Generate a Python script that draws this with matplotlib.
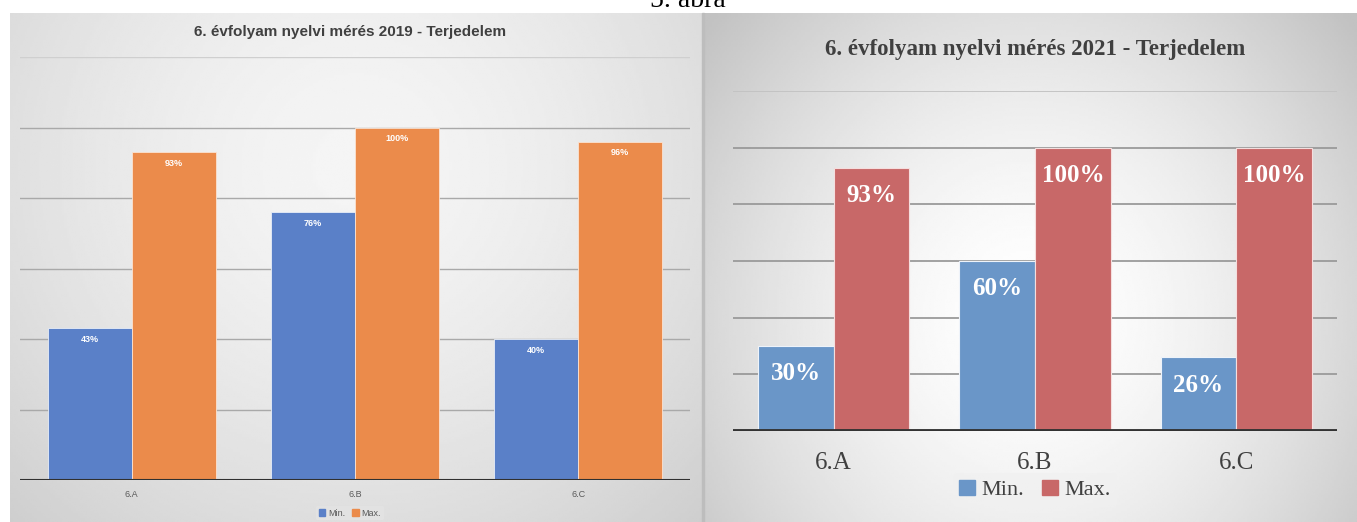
import numpy as np
import matplotlib
matplotlib.use("Agg")
import matplotlib.pyplot as plt
from matplotlib.patches import Patch

# data
classes = ['6.A', '6.B', '6.C']
min_2019 = [43, 76, 40]
max_2019 = [93, 100, 96]
min_2021 = [30, 60, 26]
max_2021 = [93, 100, 100]

W, H = 1357, 522
fig = plt.figure(figsize=(W / 100, H / 100), dpi=100)
fig.patch.set_facecolor('white')

sans = ['Liberation Sans', 'DejaVu Sans']
serif = ['Liberation Serif', 'DejaVu Serif']


def px_rect(x0, y0, x1, y1):
    # pixel box (top-left origin) -> figure fraction [l, b, w, h]
    return [x0 / W, 1 - y1 / H, (x1 - x0) / W, (y1 - y0) / H]


def gradient_bg(rect, cx, cy, lo, hi, sx, sy):
    bg = fig.add_axes(rect, zorder=0)
    yy, xx = np.mgrid[0:1:200j, 0:1:300j]
    r = np.sqrt(((xx - cx) / sx) ** 2 + ((yy - cy) / sy) ** 2)
    img = hi - (hi - lo) * np.clip(r, 0, 1) ** 1.6
    bg.imshow(img, cmap='gray', vmin=0, vmax=1, aspect='auto',
              extent=[0, 1, 1, 0], interpolation='bilinear')
    bg.set_axis_off()
    return bg


# panel backgrounds
gradient_bg(px_rect(10, 13, 702, 522), 0.5, 0.3, 0.80, 0.96, 0.75, 1.0)
gradient_bg(px_rect(704, 13, 1357, 522), 0.5, 0.6, 0.76, 1.0, 0.65, 0.9)
fig.patches.append(plt.Rectangle((702 / W, 0), 2 / W, 1 - 13 / H,
                                 transform=fig.transFigure,
                                 color='#bdbdbd', zorder=1))

# caption, cut off at the top like in the source page
fig.text(688 / W, 1 - 7 / H, '5. ábra', ha='center', va='baseline',
         fontsize=20, family=serif, color='black', zorder=5)

x = np.arange(len(classes))
bw = 0.376

# ---------- left chart (2019) ----------
ax1 = fig.add_axes(px_rect(20, 57, 690, 480), zorder=2)
ax1.set_facecolor('none')
ax1.bar(x - bw / 2, min_2019, bw, color='#5a80c8', edgecolor='#e8eef8', linewidth=0.6, zorder=3)
ax1.bar(x + bw / 2, max_2019, bw, color='#eb8b4b', edgecolor='#fbe3d2', linewidth=0.6, zorder=3)
ax1.set_xlim(-0.5, 2.5)
ax1.set_ylim(0, 120)
ax1.set_yticks([20, 40, 60, 80, 100])
ax1.yaxis.grid(True, color='#a9a9a9', linewidth=1.0)
ax1.axhline(120, color='#cfcfcf', linewidth=1.0, zorder=1)
ax1.set_axisbelow(True)
ax1.tick_params(axis='y', left=False, labelleft=False)
ax1.tick_params(axis='x', length=0, pad=7, labelsize=6.5, labelcolor='#595959')
ax1.set_xticks(x)
ax1.set_xticklabels(classes, family=sans)
for s in ax1.spines.values():
    s.set_visible(False)
ax1.axhline(0, color='#303030', linewidth=1.5, zorder=4)
for xs, vals in ((x - bw / 2, min_2019), (x + bw / 2, max_2019)):
    for xi, v in zip(xs, vals):
        ax1.annotate(f'{v}%', (xi, v), xytext=(0, -8), textcoords='offset points',
                     ha='center', va='center', fontsize=6.5, color='white', fontweight='bold',
                     family=sans, zorder=5)
fig.text(350 / W, 1 - 32 / H, '6. évfolyam nyelvi mérés 2019 - Terjedelem',
         ha='center', va='center', fontsize=11, fontweight='bold', color='#404040',
         family=sans, zorder=5)
fig.legend(handles=[Patch(color='#5a80c8', label='Min.'), Patch(color='#eb8b4b', label='Max.')],
           loc='center', bbox_to_anchor=(350 / W, 1 - 513 / H), ncol=2,
           frameon=True, facecolor='#e4e4e4', edgecolor='none', framealpha=0.8,
           handlelength=0.7, handleheight=0.7, handletextpad=0.3, columnspacing=0.8,
           borderpad=0.3, prop={'family': sans, 'size': 6.5},
           labelcolor='#595959')

# ---------- right chart (2021) ----------
ax2 = fig.add_axes(px_rect(733, 91, 1337, 431), zorder=2)
ax2.set_facecolor('none')
ax2.bar(x - bw / 2, min_2021, bw, color='#6a96c8', edgecolor='#eef3fa', linewidth=0.8, zorder=3)
ax2.bar(x + bw / 2, max_2021, bw, color='#c86868', edgecolor='#f5dede', linewidth=0.8, zorder=3)
ax2.set_xlim(-0.5, 2.5)
ax2.set_ylim(0, 120)
ax2.set_yticks([20, 40, 60, 80, 100])
ax2.yaxis.grid(True, color='#9a9a9a', linewidth=1.3)
ax2.axhline(120, color='#c2c2c2', linewidth=1.3, zorder=1)
ax2.set_axisbelow(True)
ax2.tick_params(axis='y', left=False, labelleft=False)
ax2.tick_params(axis='x', length=0, pad=15, labelsize=18, labelcolor='#404040')
ax2.set_xticks(x)
ax2.set_xticklabels(classes, family=serif)
for s in ax2.spines.values():
    s.set_visible(False)
ax2.axhline(0, color='#333333', linewidth=3.5, zorder=4)
for xs, vals in ((x - bw / 2, min_2021), (x + bw / 2, max_2021)):
    for xi, v in zip(xs, vals):
        ax2.annotate(f'{v}%', (xi, v), xytext=(0, -20), textcoords='offset points',
                     ha='center', va='center', fontsize=18, color='white', fontweight='bold',
                     family=serif, zorder=5)
fig.text(1035 / W, 1 - 50 / H, '6. évfolyam nyelvi mérés 2021 - Terjedelem',
         ha='center', va='center', fontsize=16.5, fontweight='bold', color='#404040',
         family=serif, zorder=5)
fig.legend(handles=[Patch(color='#6a96c8', label='Min.'), Patch(color='#c86868', label='Max.')],
           loc='center', bbox_to_anchor=(1035 / W, 1 - 490 / H), ncol=2,
           frameon=True, facecolor='#f0f0f0', edgecolor='none', framealpha=0.6,
           handlelength=0.7, handleheight=0.7, handletextpad=0.3, columnspacing=0.8,
           borderpad=0.3, prop={'family': serif, 'size': 16},
           labelcolor='#404040')

fig.savefig('out.png', dpi=100)
